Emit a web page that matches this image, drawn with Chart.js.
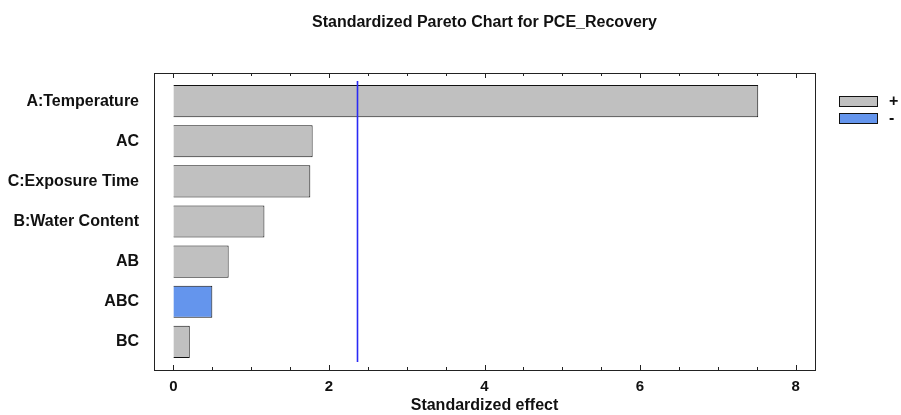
<!DOCTYPE html>
<html>
<head>
<meta charset="utf-8">
<script src="https://cdn.jsdelivr.net/npm/chart.js@4"></script>
<style>
  html, body { margin: 0; padding: 0; background: #fff; }
  #wrap { width: 901px; height: 415px; }
</style>
</head>
<body>
<div id="wrap"><canvas id="myChart" width="901" height="415"></canvas></div>
<script>
'use strict';

//// Data
const effects = ['A:Temperature', 'AC', 'C:Exposure Time', 'B:Water Content', 'AB', 'ABC', 'BC'];
const effectValues = [7.52, 1.79, 1.76, 1.17, 0.71, 0.50, 0.21];
const effectSigns = ['+', '+', '+', '+', '+', '-', '+'];
const criticalValue = 2.365;
const xTicks = [0, 2, 4, 6, 8];

const FONT = "'Liberation Sans', Arial, sans-serif";
const GRAY = '#c0c0c0';
const BLUE = '#6495ed';
const EDGE = '#111';

function pointsFor(sign) {
    const pts = [];
    effectValues.forEach(function (v, i) {
        if (effectSigns[i] === sign) pts.push({ x: v, y: i });
    });
    return pts;
}

//// frame, inward ticks, critical line, legend
const paretoDecor = {
    id: 'paretoDecor',
    afterDatasetsDraw(chart) {
        const c = chart.ctx;
        const a = chart.chartArea;
        const xs = chart.scales.x;
        const ys = chart.scales.y;
        c.save();

        // frame
        c.lineWidth = 1;
        c.strokeStyle = '#222';
        c.strokeRect(Math.round(a.left) + 0.5, Math.round(a.top) + 0.5,
            Math.round(a.width), Math.round(a.height));

        // ticks pointing inwards, top and bottom
        c.beginPath();
        for (let v = 0; v <= 8; v += 0.5) {
            const px = Math.round(xs.getPixelForValue(v)) + 0.5;
            const len = (v % 2 === 0) ? 5 : 3;
            c.moveTo(px, a.top);
            c.lineTo(px, a.top + len);
            c.moveTo(px, a.bottom);
            c.lineTo(px, a.bottom - len);
        }
        c.stroke();

        // critical value line
        const cx = Math.round(xs.getPixelForValue(criticalValue)) + 0.5;
        c.beginPath();
        c.strokeStyle = '#2a2af5';
        c.lineWidth = 1.6;
        c.moveTo(cx, ys.getPixelForValue(-0.5));
        c.lineTo(cx, ys.getPixelForValue(effects.length - 0.5));
        c.stroke();

        // legend
        c.lineWidth = 1;
        chart.data.datasets.forEach(function (ds, i) {
            const by = 96 + i * 17;
            c.fillStyle = ds.backgroundColor;
            c.fillRect(839.5, by + 0.5, 38, 10);
            c.strokeStyle = EDGE;
            c.strokeRect(839.5, by + 0.5, 38, 10);
            c.fillStyle = '#111';
            c.font = 'bold 16px ' + FONT;
            c.textBaseline = 'middle';
            c.textAlign = 'left';
            c.fillText(ds.label, 889, by + 5.5);
        });
        c.restore();
    }
};

const ctx = document.getElementById('myChart').getContext('2d');

const chart = new Chart(ctx, {
    type: 'bar',
    data: {
        datasets: [{
            label: '+',
            data: pointsFor('+'),
            backgroundColor: GRAY,
            borderColor: EDGE,
            borderWidth: 1,
            grouped: false,
            barPercentage: 0.8,
            categoryPercentage: 1
        }, {
            label: '-',
            data: pointsFor('-'),
            backgroundColor: BLUE,
            borderColor: EDGE,
            borderWidth: 1,
            grouped: false,
            barPercentage: 0.8,
            categoryPercentage: 1
        }]
    },
    options: {
        indexAxis: 'y',
        responsive: false,
        animation: false,
        layout: { padding: { left: 0, right: 86, top: 0, bottom: 0 } },
        plugins: {
            legend: { display: false },
            tooltip: { enabled: false },
            title: {
                display: true,
                fullSize: false,
                text: 'Standardized Pareto Chart for PCE_Recovery',
                color: '#111',
                font: { family: FONT, size: 16, weight: 'bold' },
                padding: { top: 13, bottom: 40.8 }
            }
        },
        scales: {
            x: {
                type: 'linear',
                min: -0.25,
                max: 8.25,
                afterBuildTicks: function (s) { s.ticks = xTicks.map(v => ({ value: v })); },
                afterFit: function (s) { s.height = 45; },
                grid: { display: false, drawTicks: false },
                border: { display: false },
                ticks: {
                    color: '#111',
                    padding: 8,
                    font: { family: FONT, size: 15, weight: 'bold' }
                },
                title: {
                    display: true,
                    text: 'Standardized effect',
                    color: '#111',
                    font: { family: FONT, size: 16, weight: 'bold' },
                    padding: { top: 0, bottom: 0 }
                }
            },
            y: {
                type: 'linear',
                offset: false,
                reverse: true,
                min: -0.7,
                max: effects.length - 0.3,
                afterBuildTicks: function (s) { s.ticks = effects.map((e, i) => ({ value: i })); },
                afterFit: function (s) { s.width = 154; },
                grid: { display: false, drawTicks: false, offset: false },
                border: { display: false },
                ticks: {
                    color: '#111',
                    padding: 15,
                    font: { family: FONT, size: 16, weight: 'bold' },
                    callback: function (v) { return effects[v]; }
                }
            }
        }
    },
    plugins: [paretoDecor]
});
</script>
</body>
</html>
